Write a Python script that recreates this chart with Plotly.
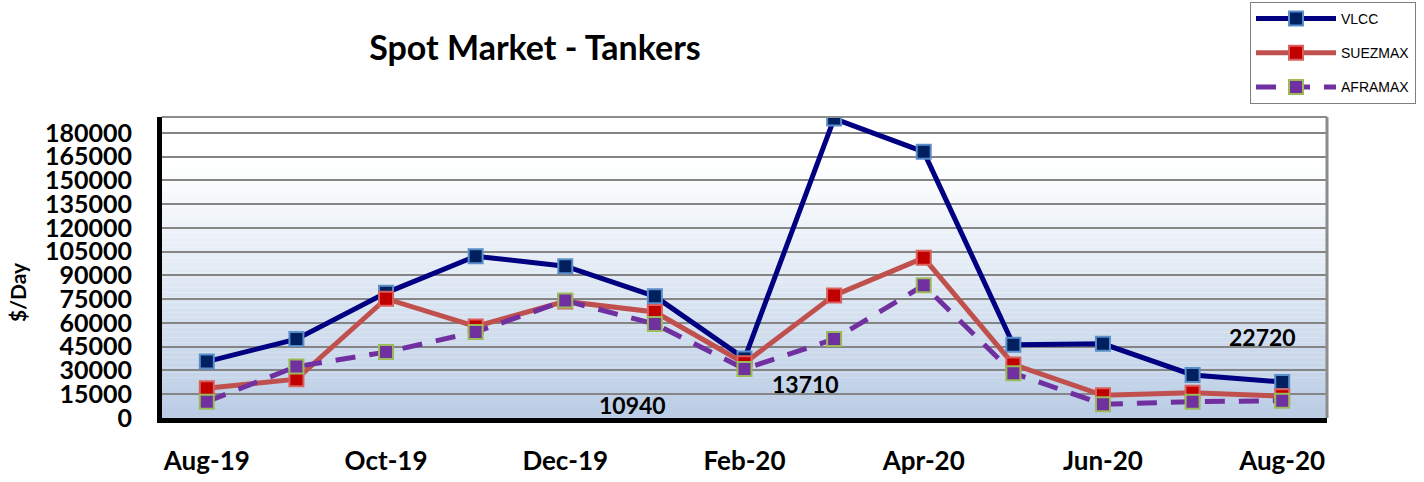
import plotly.graph_objects as go

months = ["Aug-19", "Sep-19", "Oct-19", "Nov-19", "Dec-19", "Jan-20", "Feb-20",
          "Mar-20", "Apr-20", "May-20", "Jun-20", "Jul-20", "Aug-20"]
vlcc = [35600, 49800, 79000, 102100, 95800, 76800, 37500, 189000, 168000, 46200, 46800, 27200, 22720]
suezmax = [18800, 24500, 75300, 57800, 73600, 66900, 34600, 77400, 101100, 33800, 14300, 16000, 13710]
aframax = [10300, 32500, 41600, 54300, 74100, 59300, 31000, 49800, 83800, 28300, 8700, 10300, 10940]
y_ticks = list(range(0, 180001, 15000))
x_ticks = months[::2]
labels = [("10940", 632, 405), ("13710", 805, 384), ("22720", 1262, 337)]
y_title = "$/Day"

FONT = "Lato"
L, R, T, B = 162, 1327, 117, 418
W, H = 1424, 482

fig = go.Figure()

series = [
    ("VLCC", vlcc, "#000080", "#002060", "#5B8FC9", "solid"),
    ("SUEZMAX", suezmax, "#C0504D", "#C00000", "#D9605C", "solid"),
    ("AFRAMAX", aframax, "#7030A0", "#7030A0", "#9BBB59", "20px,14px"),
]
for name, vals, lc, mc, mlc, dash in series:
    fig.add_trace(go.Scatter(
        x=months, y=vals, name=name, mode="lines+markers",
        legendgroup=name,
        line=dict(color=lc, width=5, dash=dash),
        marker=dict(symbol="square", size=14, color=mc, line=dict(color=mlc, width=2)),
    ))

# gradient background strips (styling only)
shapes = []
n = 60
top_c = (255, 255, 255)
bot_c = (186, 205, 229)
for i in range(n):
    t = (i + 0.5) / n  # fraction from top
    f = 0 if t < 0.15 else (t - 0.15) / 0.85
    c = tuple(round(top_c[k] + (bot_c[k] - top_c[k]) * f) for k in range(3))
    y1 = 1 - i / n
    y0 = 1 - (i + 1) / n
    shapes.append(dict(type="rect", xref="paper", yref="paper", x0=0, x1=1, y0=y0, y1=y1,
                       fillcolor="rgb(%d,%d,%d)" % c, line=dict(width=0), layer="below"))
# top and right gray border
shapes.append(dict(type="line", xref="paper", yref="paper", x0=0, x1=1, y0=1, y1=1,
                   line=dict(color="#8C8C8C", width=2), layer="above"))
shapes.append(dict(type="line", xref="paper", yref="paper", x0=1, x1=1, y0=0, y1=1,
                   line=dict(color="#8C8C8C", width=3), layer="above"))

annotations = []
for txt, px, py in labels:
    annotations.append(dict(text="<b>%s</b>" % txt, xref="paper", yref="paper",
                            x=(px - L) / (R - L), y=(B - py) / (B - T),
                            xanchor="center", yanchor="middle", showarrow=False,
                            font=dict(family=FONT, size=23, color="black")))
annotations.append(dict(text="<b>%s</b>" % y_title, xref="paper", yref="paper",
                        x=(17 - L) / (R - L), y=(B - 292) / (B - T), textangle=-90,
                        xanchor="center", yanchor="middle", showarrow=False,
                        font=dict(family=FONT, size=21, color="black")))

fig.update_layout(
    width=W, height=H,
    margin=dict(l=L, r=W - R, t=T, b=H - B, pad=0, autoexpand=False),
    paper_bgcolor="white", plot_bgcolor="white",
    title=dict(text="<b>Spot Market - Tankers</b>", x=535 / W, xanchor="center",
               y=1 - 48 / H, yanchor="middle", font=dict(family=FONT, size=34, color="black")),
    font=dict(family=FONT, color="black"),
    showlegend=True,
    legend=dict(x=(1250 - L) / (R - L), y=(B - 2) / (B - T), xanchor="left", yanchor="top",
                bordercolor="#7F7F7F", borderwidth=1, bgcolor="white",
                font=dict(family="Liberation Sans", size=14, color="black"),
                tracegroupgap=13, itemwidth=80),
    shapes=shapes,
    annotations=annotations,
    xaxis=dict(type="category", categoryorder="array", categoryarray=months,
               range=[-0.5, len(months) - 0.5],
               tickvals=x_ticks, ticktext=x_ticks, showgrid=False,
               showline=True, linecolor="black", linewidth=5,
               ticks="", ticklabelstandoff=16,
               tickfont=dict(family=FONT, size=26, color="black", weight="bold")),
    yaxis=dict(range=[0, 190000], tickvals=y_ticks, ticktext=[str(v) for v in y_ticks],
               showgrid=True, gridcolor="#858585", gridwidth=2,
               showline=True, linecolor="black", linewidth=5, zeroline=False,
               ticks="", ticklabelstandoff=20,
               tickfont=dict(family=FONT, size=25, color="black", weight="bold")),
)

fig.write_html("out.html", config={"displayModeBar": False},
               post_script="document.body.style.margin='0';")
